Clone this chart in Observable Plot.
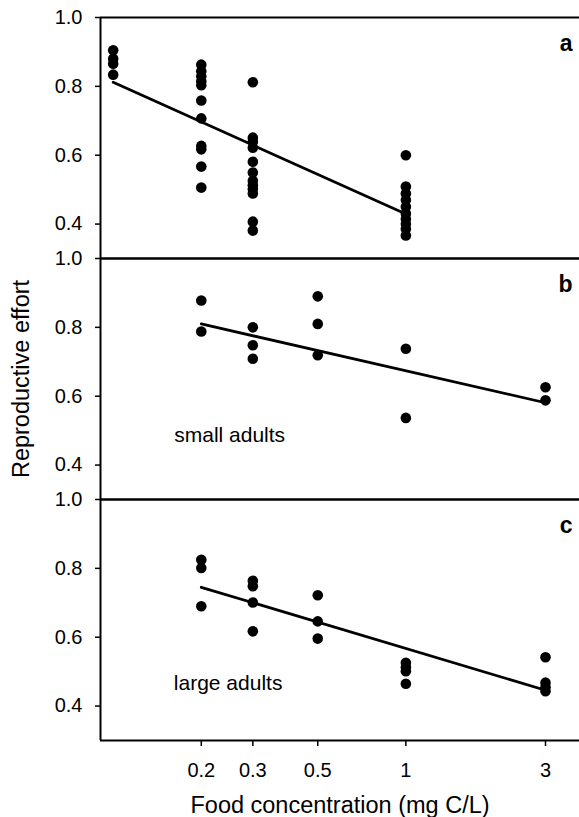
<!DOCTYPE html>
<html><head><meta charset="utf-8">
<script src="https://cdn.jsdelivr.net/npm/d3@7"></script>
<script src="https://cdn.jsdelivr.net/npm/@observablehq/plot@0.6"></script>
<style>
body{margin:0;background:#fff;}
#chart svg{font-family:"Liberation Sans",Arial,Helvetica,sans-serif;}
g[aria-label="x-axis label"] text, g[aria-label="fy-axis label"] text{font-size:23.5px;}
</style></head><body><div id="chart"></div>
<script>
// Panels and labels
const panels = ["a", "b", "c"];
const notePanels = ["b", "c"];
const notes = ["small adults", "large adults"];
const xTicks = [0.2, 0.3, 0.5, 1, 3];
const yTicks = [0.4, 0.6, 0.8, 1.0];
const xDomain = [0.0905, 3.92];
const yDomain = [0.3, 1.0];

// Panel a
const concA = [0.1,0.1,0.1,0.1,
  0.2,0.2,0.2,0.2,0.2,0.2,0.2,0.2,0.2,0.2,0.2,
  0.3,0.3,0.3,0.3,0.3,0.3,0.3,0.3,0.3,0.3,0.3,0.3,
  1,1,1,1,1,1,1,1,1,1];
const effortA = [0.905,0.880,0.866,0.834,
  0.863,0.844,0.829,0.815,0.803,0.759,0.707,0.627,0.617,0.567,0.506,
  0.812,0.651,0.639,0.622,0.581,0.550,0.526,0.513,0.502,0.489,0.407,0.381,
  0.600,0.509,0.489,0.470,0.450,0.431,0.415,0.400,0.386,0.367];
const fitConcA = [0.1, 1];
const fitEffortA = [0.812, 0.429];

// Panel b (small adults)
const concB = [0.2,0.2, 0.3,0.3,0.3, 0.5,0.5,0.5, 1,1, 3,3];
const effortB = [0.878,0.788, 0.800,0.748,0.709, 0.890,0.810,0.719, 0.738,0.537, 0.626,0.588];
const fitConcB = [0.2, 3];
const fitEffortB = [0.810, 0.581];

// Panel c (large adults)
const concC = [0.2,0.2,0.2, 0.3,0.3,0.3,0.3, 0.5,0.5,0.5, 1,1,1,1, 3,3,3,3];
const effortC = [0.825,0.801,0.690, 0.764,0.748,0.701,0.617, 0.722,0.646,0.596, 0.526,0.513,0.501,0.465, 0.542,0.468,0.455,0.443];
const fitConcC = [0.2, 3];
const fitEffortC = [0.745, 0.446];

const toRows = (panel, xs, ys) => xs.map((x, i) => ({panel, conc: x, effort: ys[i]}));
const points = [
  ...toRows("a", concA, effortA),
  ...toRows("b", concB, effortB),
  ...toRows("c", concC, effortC)
];
const fits = [
  ...toRows("a", fitConcA, fitEffortA),
  ...toRows("b", fitConcB, fitEffortB),
  ...toRows("c", fitConcC, fitEffortC)
];

const chart = Plot.plot({
  width: 579,
  height: 817,
  marginLeft: 100,
  marginRight: 0,
  marginTop: 16,
  marginBottom: 77,
  style: {fontSize: "20px", color: "black", background: "white"},
  x: {type: "log", domain: xDomain},
  y: {domain: yDomain},
  fy: {domain: panels, padding: 0},
  marks: [
    Plot.ruleY(yDomain, {stroke: "black", strokeWidth: 2}),
    Plot.ruleX([xDomain[0]], {stroke: "black", strokeWidth: 2}),
    Plot.axisY({ticks: yTicks, tickFormat: d3.format(".1f"), tickSize: 5, tickPadding: 13, strokeWidth: 1.5, fontSize: 20, label: null}),
    Plot.axisX({ticks: xTicks, tickFormat: d => String(d), tickSize: 6, tickPadding: 16, strokeWidth: 1.5, fontSize: 20,
      label: "Food concentration (mg C/L)", labelAnchor: "center", labelOffset: 72, labelArrow: "none"}),
    Plot.axisFy({anchor: "left", ticks: [], tickSize: 0, label: "Reproductive effort", labelAnchor: "center", labelOffset: 88, labelArrow: "none"}),
    Plot.line(fits, {x: "conc", y: "effort", fy: "panel", z: "panel", stroke: "black", strokeWidth: 2.8}),
    Plot.dot(points, {x: "conc", y: "effort", fy: "panel", r: 5.3, fill: "black", stroke: "none"}),
    Plot.text(panels, {fy: d => d, text: d => d, frameAnchor: "top-right", textAnchor: "end", lineAnchor: "middle", dx: -7, dy: 26, fontWeight: "bold", fontSize: 23}),
    Plot.text(notes, {fy: notePanels, x: [0.25, 0.247], y: [0.487, 0.467], text: d => d, fontSize: 21})
  ]
});
document.getElementById("chart").appendChild(chart);
</script></body></html>
